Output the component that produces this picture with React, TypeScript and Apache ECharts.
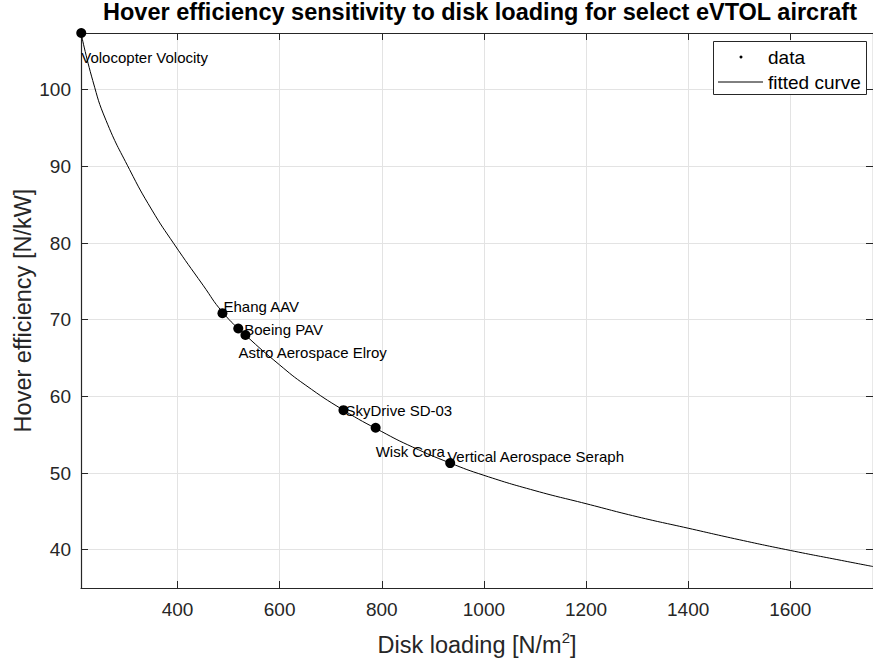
import React, { useEffect, useRef } from "react";
import * as echarts from "echarts";

const aircraftNames = [
  "Volocopter Volocity",
  "Ehang AAV",
  "Boeing PAV",
  "Astro Aerospace Elroy",
  "SkyDrive SD-03",
  "Wisk Cora",
  "Vertical Aerospace Seraph",
];
const diskLoading = [211.5, 488, 519, 533, 725, 788, 934];
const hoverEfficiency = [107.4, 70.85, 68.85, 68.0, 58.2, 55.9, 51.3];

const curveX = [211, 234, 260, 306, 350, 393, 450, 488, 533, 600, 650, 725, 800, 860, 934, 1000, 1100, 1200, 1300, 1400, 1500, 1600, 1700, 1762];
const curveY = [107.4, 101.2, 96.0, 89.6, 84.3, 79.9, 74.5, 71.0, 68.0, 64.1, 61.5, 58.2, 55.4, 53.4, 51.3, 49.7, 47.7, 46.0, 44.3, 42.8, 41.3, 39.9, 38.6, 37.8];

const xTickLabels = ["400", "600", "800", "1000", "1200", "1400", "1600"];
const yTickLabels = ["40", "50", "60", "70", "80", "90", "100"];

// label placement (style): [dx, dy] from point to label's left / vertical middle
const labelOffsets = [
  [0, 24],
  [1, -7],
  [6, 1],
  [-7, 17],
  [2, 0],
  [0, 24],
  [-3, -7],
];

const FONT = "'Liberation Sans', Arial, Helvetica, sans-serif";
const AXIS_COLOR = "#262626";

export default function App() {
  const ref = useRef<HTMLDivElement>(null);
  useEffect(() => {
    if (!ref.current) return;
    const chart = echarts.init(ref.current, undefined, { renderer: "svg" });
    const axisCommon = {
      type: "value",
      axisLine: { show: true, lineStyle: { color: AXIS_COLOR, width: 1.2 } },
      axisTick: { show: true, inside: true, length: 7, lineStyle: { color: AXIS_COLOR, width: 1 } },
    };
    const option: any = {
      animation: false,
      backgroundColor: "#ffffff",
      textStyle: { fontFamily: FONT },
      title: {
        text: "Hover efficiency sensitivity to disk loading for select eVTOL aircraft",
        left: 480,
        textAlign: "center",
        top: 0,
        padding: 0,
        textStyle: { fontFamily: FONT, fontSize: 23.5, fontWeight: "bold", color: "#000" },
      },
      grid: { left: 81, top: 33, right: 0, bottom: 76, containLabel: false, outerBoundsMode: "none" },
      xAxis: [
        {
          ...axisCommon,
          position: "bottom",
          min: 211,
          max: 1762,
          minInterval: 200,
          maxInterval: 200,
          splitNumber: 8,
          splitLine: { show: true, lineStyle: { color: "#e3e3e3", width: 1 } },
          axisLabel: {
            show: true,
            margin: 12,
            fontSize: 19,
            color: AXIS_COLOR,
            fontFamily: FONT,
            formatter: (v: number) => (xTickLabels.includes(String(v)) ? String(v) : ""),
          },
          name: "Disk loading [N/m{sup|2}]",
          nameLocation: "middle",
          nameGap: 42,
          nameMoveOverlap: false,
          nameTextStyle: {
            fontSize: 23.5,
            color: AXIS_COLOR,
            fontFamily: FONT,
            lineHeight: 30,
            rich: { sup: { fontSize: 15, verticalAlign: "top", color: AXIS_COLOR, fontFamily: FONT } },
          },
        },
        {
          ...axisCommon,
          position: "top",
          min: 211,
          max: 1762,
          minInterval: 200,
          maxInterval: 200,
          splitNumber: 8,
          splitLine: { show: false },
          axisLabel: { show: false },
        },
      ],
      yAxis: [
        {
          ...axisCommon,
          position: "left",
          min: 35,
          max: 107.4,
          minInterval: 10,
          maxInterval: 10,
          splitNumber: 7,
          splitLine: { show: true, lineStyle: { color: "#e3e3e3", width: 1 } },
          axisLabel: {
            show: true,
            margin: 10,
            fontSize: 19,
            color: AXIS_COLOR,
            fontFamily: FONT,
            formatter: (v: number) => (yTickLabels.includes(String(v)) ? String(v) : ""),
          },
          name: "Hover efficiency [N/kW]",
          nameLocation: "middle",
          nameGap: 46,
          nameMoveOverlap: false,
          nameTextStyle: { fontSize: 23.5, color: AXIS_COLOR, fontFamily: FONT },
        },
        {
          ...axisCommon,
          position: "right",
          min: 35,
          max: 107.4,
          minInterval: 10,
          maxInterval: 10,
          splitNumber: 7,
          splitLine: { show: false },
          axisLabel: { show: false },
        },
      ],
      series: [
        {
          name: "fitted curve",
          type: "line",
          xAxisIndex: 0,
          yAxisIndex: 0,
          data: curveX.map((x, i) => [x, curveY[i]]),
          symbol: "none",
          smooth: 0.5,
          lineStyle: { color: "#000", width: 1 },
          z: 2,
        },
        {
          name: "data",
          type: "scatter",
          xAxisIndex: 0,
          yAxisIndex: 0,
          symbol: "circle",
          symbolSize: 10,
          itemStyle: { color: "#000", opacity: 1 },
          z: 3,
          data: aircraftNames.map((n, i) => ({
            name: n,
            value: [diskLoading[i], hoverEfficiency[i]],
            label: { position: [5 + labelOffsets[i][0], 5 + labelOffsets[i][1]] },
          })),
          label: {
            show: true,
            formatter: "{b}",
            fontSize: 15,
            fontFamily: FONT,
            color: "#000",
            align: "left",
            verticalAlign: "middle",
          },
        },
      ],
      graphic: [
        {
          type: "rect",
          shape: { x: 713.5, y: 41.5, width: 153, height: 53 },
          style: { fill: "#fff", stroke: AXIS_COLOR, lineWidth: 1 },
          z: 100,
        },
        { type: "circle", shape: { cx: 741, cy: 57, r: 1.5 }, style: { fill: "#000" }, z: 101 },
        { type: "line", shape: { x1: 718, y1: 82, x2: 763, y2: 82 }, style: { stroke: "#000", lineWidth: 1 }, z: 101 },
        {
          type: "text",
          x: 768,
          y: 57,
          style: { text: "data", fontSize: 19, fontFamily: FONT, fill: "#000", verticalAlign: "middle", align: "left" },
          z: 101,
        },
        {
          type: "text",
          x: 768,
          y: 82,
          style: { text: "fitted curve", fontSize: 19, fontFamily: FONT, fill: "#000", verticalAlign: "middle", align: "left" },
          z: 101,
        },
      ],
    };
    chart.setOption(option);
    return () => chart.dispose();
  }, []);
  return <div ref={ref} style={{ position: "absolute", left: 0, top: 0, width: 873, height: 664 }} />;
}
